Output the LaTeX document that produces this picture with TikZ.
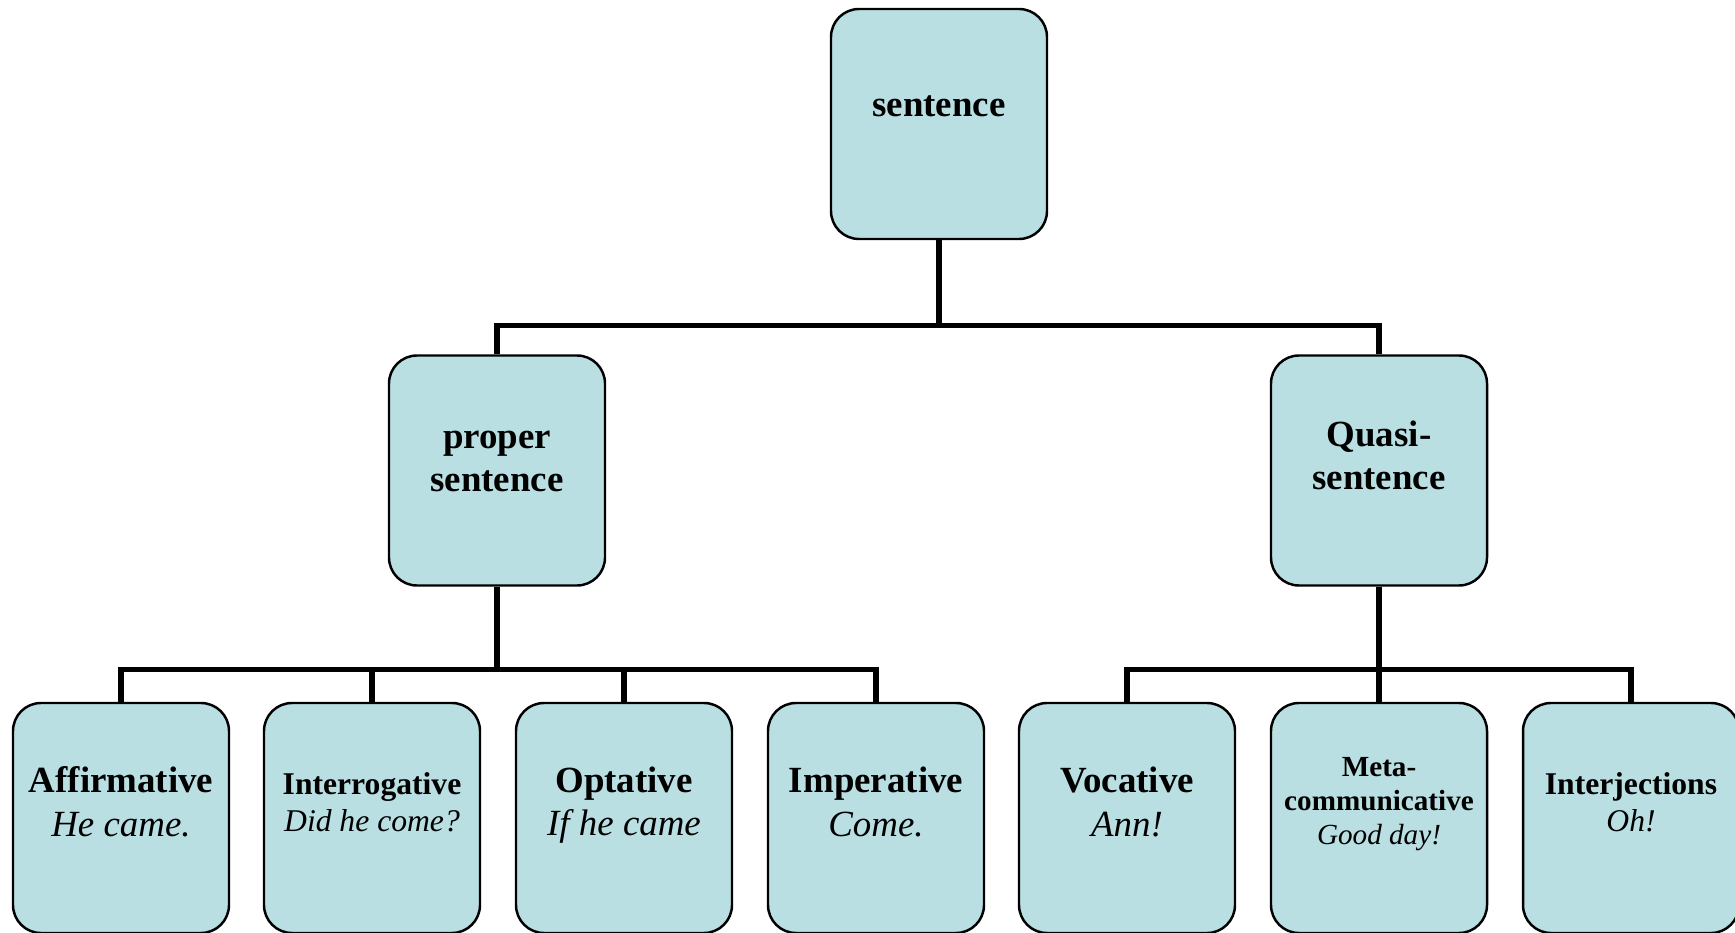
\documentclass[tikz,border=0pt]{standalone}
\usepackage{fontspec}
\setmainfont{Liberation Serif}
\definecolor{boxcyan}{HTML}{B9DFE3}

\begin{document}
\begin{tikzpicture}[
  box/.style={draw=black,line width=0.7pt,fill=boxcyan,rounded corners=0.28cm,minimum width=2.16cm,minimum height=2.3cm,inner sep=0pt},
  tree/.style={line width=1.5pt},
  txt/.style={align=center,inner sep=0pt},
  bigtxt/.style={txt,font=\fontsize{10.5}{12.4}\selectfont},
  midtxt/.style={txt,font=\fontsize{9}{10.5}\selectfont},
  smalltxt/.style={txt,font=\fontsize{8.3}{9.6}\selectfont}]
  \useasboundingbox (0,0) rectangle (17.35,9.32);
  \node[box] (s) at (9.39,8.08) {};
  \node[box] (p) at (4.97,4.615) {};
  \node[box] (q) at (13.79,4.615) {};
  \foreach \n/\x in {af/1.21,ir/3.72,op/6.24,im/8.76,vo/11.27,me/13.79,ij/16.31}
    \node[box] (\n) at (\x,1.14) {};
  \draw[tree] (s.south) -- ++(0,-0.85) -| (p.north);
  \draw[tree] (s.south) -- ++(0,-0.85) -| (q.north);
  \foreach \c in {af,ir,op,im}
    \draw[tree] (p.south) -- ++(0,-0.83) -| (\c.north);
  \foreach \c in {vo,me,ij}
    \draw[tree] (q.south) -- ++(0,-0.83) -| (\c.north);
  \node[bigtxt] (s-t) at ([yshift=1.8mm]s.center) {\textbf{sentence}};
  \node[bigtxt] (p-t) at ([yshift=0.9mm]p.center) {\textbf{proper}\\\textbf{sentence}};
  \node[bigtxt] (q-t) at ([yshift=1.5mm]q.center) {\textbf{Quasi-}\\\textbf{sentence}};
  \node[bigtxt] (af-t) at ([yshift=1.6mm]af.center) {\textbf{Affirmative}\\\textit{He came.}};
  \node[midtxt] (ir-t) at ([yshift=1.6mm]ir.center) {\textbf{Interrogative}\\\textit{Did he come?}};
  \node[bigtxt] (op-t) at ([yshift=1.3mm]op.center) {\textbf{Optative}\\\textit{If he came}};
  \node[bigtxt] (im-t) at ([yshift=1.6mm]im.center) {\textbf{Imperative}\\\textit{Come.}};
  \node[bigtxt] (vo-t) at ([yshift=1.6mm]vo.center) {\textbf{Vocative}\\\textit{Ann!}};
  \node[smalltxt] (me-t) at ([yshift=1.4mm]me.center) {\textbf{Meta-}\\\textbf{communicative}\\\textit{Good day!}};
  \node[midtxt] (ij-t) at ([yshift=1.6mm]ij.center) {\textbf{Interjections}\\\textit{Oh!}};
\end{tikzpicture}
\end{document}
